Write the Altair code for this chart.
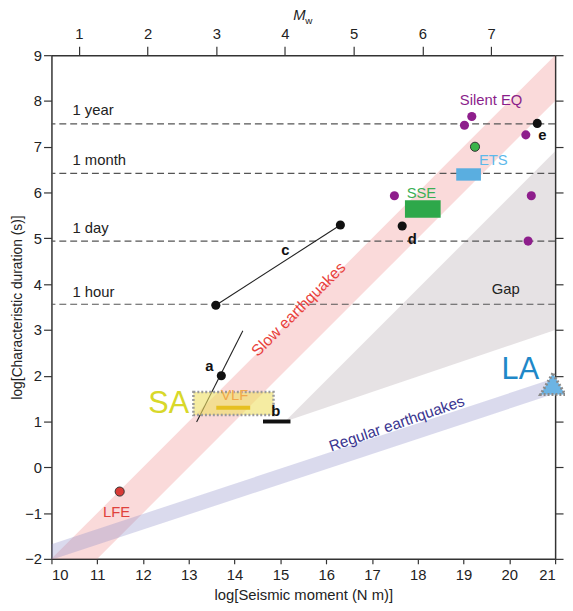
import altair as alt
import pandas as pd

FONT = "Liberation Sans"

# ---------------- data ----------------
# horizontal reference durations (log10 s)
ref_names = ["1 year", "1 month", "1 day", "1 hour"]
ref_y = [7.50, 6.42, 4.94, 3.56]
ref_label_x = [10.46, 10.46, 10.46, 10.46]
ref_label_y = [7.80, 6.72, 5.22, 3.83]

# bands (edge end points)
slow_x = [10.0, 21.0]
slow_lo = [-3.0, 8.0]
slow_hi = [-2.0, 9.0]
gap_x = [15.1, 21.0]
gap_lo = [1.0, 3.0]
gap_hi = [1.0, 6.9]
reg_x = [10.0, 21.0]
reg_lo = [-2.02, 1.61]
reg_hi = [-1.68, 1.95]

# purple: silent earthquakes
silent_x = [19.02, 19.18, 20.36, 17.49, 20.48, 20.41]
silent_y = [7.47, 7.66, 7.26, 5.93, 5.93, 4.94]
# black dots a, c(2), d, e
black_x = [13.71, 13.59, 16.31, 17.66, 20.61]
black_y = [2.00, 3.54, 5.29, 5.27, 7.51]
# outlined dots: LFE (red), ETS (green)
odot_x = [11.49, 19.25]
odot_y = [-0.53, 7.00]
odot_fill = ["#d93a36", "#3cb44a"]

# thin lines a and c
line_id = ["a", "a", "c", "c"]
line_x = [13.17, 14.18, 13.59, 16.31]
line_y = [0.99, 2.98, 3.54, 5.29]

# rectangles
rect_name = ["ETS", "SSE"]
rect_x1 = [18.84, 17.72]
rect_x2 = [19.38, 18.50]
rect_y1 = [6.26, 5.45]
rect_y2 = [6.53, 5.83]
rect_fill = ["#5aaee0", "#2ea84a"]

sa_x1, sa_x2, sa_y1, sa_y2 = [13.10], [14.85], [1.14], [1.645]

# horizontal bars: VLF, b
bar_name = ["VLF", "b"]
bar_x1 = [13.60, 14.62]
bar_x2 = [14.34, 15.22]
bar_y = [1.30, 1.00]
bar_color = ["#e6c020", "#111111"]

# LA triangle
la_x, la_y = [20.95], [1.82]

# labels
lab_text = ["Silent EQ", "ETS", "SSE", "LFE", "Gap", "VLF"]
lab_x = [19.60, 19.65, 18.08, 11.42, 19.92, 14.00]
lab_y = [8.01, 6.72, 5.99, -0.97, 3.90, 1.57]
lab_color = ["#8b1e8b", "#5db8ea", "#3aaf55", "#e0413c", "#222222", "#f0a84a"]

big_text = ["SA", "LA"]
big_x = [12.56, 20.24]
big_y = [1.39, 2.13]
big_color = ["#d8d82a", "#1f88c8"]

let_text = ["a", "b", "c", "d", "e"]
let_x = [13.45, 14.90, 15.11, 17.88, 20.72]
let_y = [2.22, 1.22, 4.74, 4.99, 7.26]

mw_values = [1, 1.5, 2, 2.5, 3, 3.5, 4, 4.5, 5, 5.5, 6, 6.5, 7, 7.5]

XMIN, XMAX, YMIN, YMAX = 10, 21, -2, 9

# ---------------- scales ----------------
xs = alt.Scale(domain=[XMIN, XMAX], nice=False, zero=False)
ys = alt.Scale(domain=[YMIN, YMAX], nice=False, zero=False)

x_axis = alt.Axis(
    title="log[Seismic moment (N m)]", values=list(range(10, 22)), tickSize=5,
    labelPadding=4, titlePadding=5, orient="bottom",
)
y_axis = alt.Axis(
    title="log[Characteristic duration (s)]", values=list(range(-2, 10)), tickSize=8,
    labelPadding=2, titlePadding=0, titleFontSize=14, orient="left",
)


def X(field):
    return alt.X(field, type="quantitative", scale=xs, axis=x_axis)


def Y(field):
    return alt.Y(field, type="quantitative", scale=ys, axis=y_axis)


def band(xv, lo, hi, color, opacity):
    df = pd.DataFrame({"x": xv, "lo": lo, "hi": hi})
    return alt.Chart(df).mark_area(color=color, opacity=opacity, clip=True).encode(
        x=X("x"), y=Y("lo"), y2="hi"
    )


gap = band(gap_x, gap_lo, gap_hi, "#9a8c94", 0.25)
slow = band(slow_x, slow_lo, slow_hi, "#f08c8c", 0.32)
reg = band(reg_x, reg_lo, reg_hi, "#8c8cc8", 0.32)

ref_df = pd.DataFrame({"name": ref_names, "y": ref_y, "lx": ref_label_x, "ly": ref_label_y})
ref_lines = alt.Chart(ref_df).mark_rule(color="#555555", strokeDash=[7, 4], strokeWidth=1.2).encode(
    y=Y("y")
)
ref_text = alt.Chart(ref_df).mark_text(
    align="left", baseline="middle", font=FONT, fontSize=15, color="#222222"
).encode(x=X("lx"), y=Y("ly"), text="name:N")

lines = alt.Chart(pd.DataFrame({"id": line_id, "x": line_x, "y": line_y})).mark_line(
    color="#222222", strokeWidth=1.1
).encode(x=X("x"), y=Y("y"), detail="id:N")

sa_box = alt.Chart(pd.DataFrame({"x1": sa_x1, "x2": sa_x2, "y1": sa_y1, "y2": sa_y2})).mark_rect(
    fill="#eee064", fillOpacity=0.6, stroke="#9a9a9a", strokeWidth=2.5, strokeDash=[2, 2]
).encode(x=X("x1"), x2="x2", y=Y("y1"), y2="y2")

rects = alt.Chart(pd.DataFrame({"n": rect_name, "x1": rect_x1, "x2": rect_x2, "y1": rect_y1,
                                "y2": rect_y2, "c": rect_fill})).mark_rect().encode(
    x=X("x1"), x2="x2", y=Y("y1"), y2="y2", color=alt.Color("c:N", scale=None)
)

bars = alt.Chart(pd.DataFrame({"n": bar_name, "x1": bar_x1, "x2": bar_x2, "y": bar_y,
                               "c": bar_color})).mark_rule(strokeWidth=4).encode(
    x=X("x1"), x2="x2", y=Y("y"), color=alt.Color("c:N", scale=None)
)

silent = alt.Chart(pd.DataFrame({"x": silent_x, "y": silent_y})).mark_circle(
    size=85, color="#8e1e8c", opacity=1
).encode(x=X("x"), y=Y("y"))
black = alt.Chart(pd.DataFrame({"x": black_x, "y": black_y})).mark_circle(
    size=85, color="#111111", opacity=1
).encode(x=X("x"), y=Y("y"))
odots = alt.Chart(pd.DataFrame({"x": odot_x, "y": odot_y, "c": odot_fill})).mark_point(
    shape="circle", filled=True, size=85, stroke="#333333", strokeWidth=1, opacity=1
).encode(x=X("x"), y=Y("y"), fill=alt.Fill("c:N", scale=None))

tri = alt.Chart(pd.DataFrame({"x": la_x, "y": la_y})).mark_point(
    shape="triangle-up", filled=True, size=620, fill="#6cb4e4", stroke="#8a8a8a",
    strokeWidth=3, strokeDash=[2, 2], opacity=1
).encode(x=X("x"), y=Y("y"))

labels = alt.Chart(pd.DataFrame({"t": lab_text, "x": lab_x, "y": lab_y, "c": lab_color})).mark_text(
    font=FONT, fontSize=15, baseline="middle"
).encode(x=X("x"), y=Y("y"), text="t:N", color=alt.Color("c:N", scale=None))

big = alt.Chart(pd.DataFrame({"t": big_text, "x": big_x, "y": big_y, "c": big_color})).mark_text(
    font=FONT, fontSize=31, baseline="middle"
).encode(x=X("x"), y=Y("y"), text="t:N", color=alt.Color("c:N", scale=None))

letters = alt.Chart(pd.DataFrame({"t": let_text, "x": let_x, "y": let_y})).mark_text(
    font=FONT, fontSize=15, fontWeight="bold", baseline="middle", color="#111111"
).encode(x=X("x"), y=Y("y"), text="t:N")

slow_lab = alt.Chart(pd.DataFrame({"t": ["Slow earthquakes"], "x": [15.40], "y": [3.45]})).mark_text(
    font=FONT, fontSize=16, angle=315, baseline="middle", color="#e8413c"
).encode(x=X("x"), y=Y("y"), text="t:N")

reg_lab = alt.Chart(pd.DataFrame({"t": ["Regular earthquakes"], "x": [17.54], "y": [0.95]})).mark_text(
    font=FONT, fontSize=15.5, angle=341, baseline="middle", color="#3a3590"
).encode(x=X("x"), y=Y("y"), text="t:N")

mw_title = alt.Chart(pd.DataFrame({"t": ["M"]})).mark_text(
    font=FONT, fontSize=15, fontStyle="italic", align="center", baseline="alphabetic", color="#222222"
).encode(x=alt.value(251), y=alt.value(-36), text="t:N")
mw_sub = alt.Chart(pd.DataFrame({"t": ["w"]})).mark_text(
    font=FONT, fontSize=10, align="left", baseline="alphabetic", color="#222222"
).encode(x=alt.value(257), y=alt.value(-32), text="t:N")

main = alt.layer(
    gap, slow, reg, ref_lines, ref_text, lines, sa_box, bars, rects,
    silent, black, odots, tri, labels, big, letters, slow_lab, reg_lab, mw_title, mw_sub,
)

# top Mw axis (Mw = 2/3 (log M0 - 9.1))
mw_lo = (2.0 / 3.0) * (XMIN - 9.1)
mw_hi = (2.0 / 3.0) * (XMAX - 9.1)
top_axis = alt.Chart(pd.DataFrame({"mw": [mw_lo, mw_hi]})).mark_point(opacity=0).encode(
    x=alt.X("mw:Q", scale=alt.Scale(domain=[mw_lo, mw_hi], nice=False, zero=False),
            axis=alt.Axis(orient="top", title=None, values=mw_values, format="d",
                          labelExpr="datum.value % 1 === 0 ? datum.label : ''",
                          tickSize={"condition": {"test": "datum.value % 1 === 0", "value": 9}, "value": 5},
                          labelPadding=5)),
    y=alt.value(0),
)

right_axis = alt.Chart(pd.DataFrame({"v": [YMIN, YMAX]})).mark_point(opacity=0).encode(
    y=alt.Y("v:Q", scale=alt.Scale(domain=[YMIN, YMAX], nice=False, zero=False),
            axis=alt.Axis(orient="right", title=None, labels=False, values=list(range(-2, 10)),
                          tickSize=8)),
    x=alt.value(0),
)

chart = alt.layer(main, top_axis, right_axis).resolve_scale(
    x="independent", y="independent"
).properties(
    width=510, height=510,
    autosize=alt.AutoSizeParams(type="none"),
    padding={"left": 44, "top": 44, "right": 10, "bottom": 48},
).configure_axis(
    labelFont=FONT, titleFont=FONT, labelFontSize=15, titleFontSize=15,
    labelColor="#222222", titleColor="#222222", titleFontWeight="normal",
    domainColor="#333333", domainWidth=1.5, tickColor="#333333", tickWidth=1.2, grid=False,
).configure_view(stroke=None)

chart.save("out.html", embed_options={"renderer": "svg", "actions": False})
